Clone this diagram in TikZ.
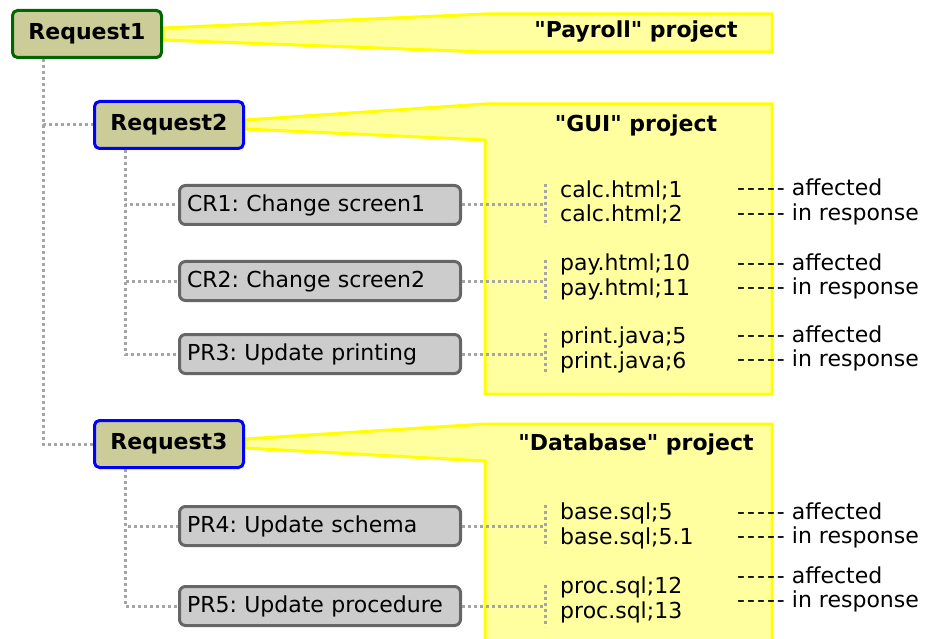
\documentclass[tikz,border=0pt]{standalone}
\usepackage{fontspec}
\setmainfont{DejaVu Sans}[Ligatures=TeXOff]
\usetikzlibrary{backgrounds}

\definecolor{reqfill}{RGB}{204,204,153}
\definecolor{reqgreen}{RGB}{0,102,0}
\definecolor{reqblue}{RGB}{0,0,255}
\definecolor{taskfill}{RGB}{204,204,204}
\definecolor{taskline}{RGB}{102,102,102}
\definecolor{notefill}{RGB}{255,255,160}
\definecolor{noteline}{RGB}{255,255,0}
\definecolor{dotgray}{RGB}{165,165,165}

\frenchspacing
\def\fs{\fontsize{22}{24.5}\selectfont}
\def\dashes{-\kern2pt-\kern2pt-\kern2pt-\kern2pt-\ }

\tikzset{
  request/.style={draw=reqblue, line width=3pt, fill=reqfill, rounded corners=5pt,
    minimum width=149pt, minimum height=47pt, font=\fs\bfseries},
  task/.style={draw=taskline, line width=3pt, fill=taskfill, rounded corners=6pt,
    minimum width=281pt, minimum height=39pt, inner xsep=6pt, text width=266pt,
    align=left, font=\fs},
  tree/.style={draw=dotgray, line width=3pt, dash pattern=on 2.6pt off 3.4pt},
  callout/.style={fill=notefill, draw=noteline, line width=3pt, line join=miter},
  title/.style={font=\fs\bfseries},
  files/.style={inner sep=0pt, align=left, anchor=west, font=\fs},
  note/.style={inner sep=0pt, anchor=west, text height=15pt, text depth=4pt, font=\fs},
}

\begin{document}
\begin{tikzpicture}[x=1pt,y=-1pt]
\useasboundingbox (0,0) rectangle (932,639);

% Requests
\node[request, draw=reqgreen] (req1) at (87,34) {Request1};
\node[request] (req2) at (169,125) {Request2};
\node[request] (req3) at (169,444) {Request3};

% Tasks
\node[task] (cr1) at (320,205) {CR1: Change screen1};
\node[task] (cr2) at (320,281) {CR2: Change screen2};
\node[task] (pr3) at (320,354) {PR3: Update printing};
\node[task] (pr4) at (320,526) {PR4: Update schema};
\node[task] (pr5) at (320,606) {PR5: Update procedure};

% Tree
\draw[tree] ([xshift=-44pt]req1.south) |- (req2.west);
\draw[tree] ([xshift=-44pt]req1.south) |- (req3.west);
\foreach \t in {cr1,cr2,pr3} {
    \draw[tree] ([xshift=-44pt]req2.south) |- (\t.west);
}
\foreach \t in {pr4,pr5} {
    \draw[tree] ([xshift=-44pt]req3.south) |- (\t.west);
}

% Project titles
\node[title] (t1) at (636,32) {"Payroll" project};
\node[title] (t2) at (636,126) {"GUI" project};
\node[title] (t3) at (636,445) {"Database" project};

% Files
\node[files] (f1) at (560,202.5) {calc.html;1\\calc.html;2};
\node[files] (f2) at (560,277) {pay.html;10\\pay.html;11};
\node[files] (f3) at (560,350) {print.java;5\\print.java;6};
\node[files] (f4) at (560,526) {base.sql;5\\base.sql;5.1};
\node[files] (f5) at (560,600) {proc.sql;12\\proc.sql;13};

\foreach \t/\f in {cr1/f1,cr2/f2,pr3/f3,pr4/f4,pr5/f5} {
    \coordinate (\t-b) at ([xshift=-15pt]\f.west |- \t.east);
    \draw[tree] (\t.east) -- (\t-b);
    \draw[tree] ([yshift=21pt]\t-b) -- ([yshift=-21pt]\t-b); % bracket
}

% Notes
\foreach \y in {190,265,337,514,578} {
    \node[note] at (737,\y) {\dashes affected};
}
\foreach \y in {215,289,361,538,602} {
    \node[note] at (737,\y) {\dashes in response};
}

% Callouts
\begin{scope}[on background layer]
\draw[callout] ([yshift=6pt]req1.east) -- (485,14) -- (772,14) -- (772,52) -- (485,52)
    -- ([yshift=-6pt]req1.east) -- cycle;
\draw[callout] ([yshift=5pt]req2.east) -- (485,104) -- (772,104) -- (772,394) -- (485,394)
    -- (485,140) -- ([yshift=-4pt]req2.east) -- cycle;
\draw[callout] ([yshift=5pt]req3.east) -- (485,424) -- (772,424) -- (772,645) -- (485,645)
    -- (485,461) -- ([yshift=-4pt]req3.east) -- cycle;
\end{scope}

\end{tikzpicture}
\end{document}
